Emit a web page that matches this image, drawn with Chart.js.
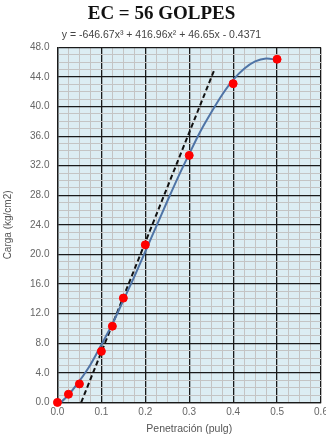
<!DOCTYPE html>
<html>
<head>
<meta charset="utf-8">
<script src="https://cdn.jsdelivr.net/npm/chart.js@4"></script>
<style>
  html, body { margin: 0; padding: 0; background: #fff; }
  #wrap { width: 326px; height: 435px; }
</style>
</head>
<body>
<div id="wrap"><canvas id="cbr"></canvas></div>
<script>
// datos del ensayo
const penetracion = [0, 0.025, 0.05, 0.1, 0.125, 0.15, 0.2, 0.3, 0.4, 0.5];
const carga = [0, 1.1, 2.5, 6.9, 10.3, 14.1, 21.3, 33.4, 43.1, 46.4];

// linea de tendencia
const curvaX = [0, 0.025, 0.05, 0.075, 0.1, 0.125, 0.15, 0.175, 0.2, 0.225, 0.25, 0.275, 0.3, 0.325, 0.35, 0.375, 0.4, 0.425, 0.45, 0.475, 0.5];
const curvaY = [-0.4, 1.0, 2.9, 5.1, 7.8, 10.6, 13.8, 17.0, 20.4, 23.8, 27.2, 30.5, 33.6, 36.6, 39.2, 41.6, 43.6, 45.1, 46.1, 46.5, 46.3];

// tangente (correccion)
const tangX = [0.054, 0.356];
const tangY = [0, 44.8];

const xTicks = ['0.0', '0.1', '0.2', '0.3', '0.4', '0.5', '0.6'];
const yTicks = ['0.0', '4.0', '8.0', '12.0', '16.0', '20.0', '24.0', '28.0', '32.0', '36.0', '40.0', '44.0', '48.0'];

const toPts = (xs, ys) => xs.map((x, i) => ({ x: x, y: ys[i] }));

const isMajorX = v => Math.abs(v * 10 - Math.round(v * 10)) < 1e-6;
const isMajorY = v => Math.abs(v / 4 - Math.round(v / 4)) < 1e-6;

const fondo = {
  id: 'fondo',
  beforeDraw(chart) {
    const { ctx, chartArea: a } = chart;
    ctx.save();
    ctx.fillStyle = '#dcedf3';
    ctx.fillRect(a.left, a.top, a.right - a.left, a.bottom - a.top);
    ctx.restore();
  }
};

new Chart(document.getElementById('cbr'), {
  type: 'scatter',
  data: {
    datasets: [{
      data: toPts(curvaX, curvaY),
      showLine: true,
      borderColor: '#4f74a6',
      borderWidth: 2,
      pointRadius: 0,
      tension: 0.3,
      order: 2
    }, {
      data: toPts(tangX, tangY),
      showLine: true,
      borderColor: '#111',
      borderWidth: 2,
      borderDash: [5, 3],
      pointRadius: 0,
      order: 3
    }, {
      data: toPts(penetracion, carga),
      backgroundColor: '#ff0000',
      borderColor: '#ff0000',
      pointRadius: 4,
      order: 1
    }]
  },
  options: {
    responsive: true,
    maintainAspectRatio: false,
    animation: false,
    clip: false,
    layout: { padding: { left: 2, right: 5, top: 3, bottom: 0 } },
    scales: {
      x: {
        type: 'linear',
        min: 0,
        max: 0.6,
        // el 0.6 queda cortado en el borde como en el original
        afterFit: s => { s.paddingRight = 0; },
        ticks: {
          stepSize: 0.025,
          autoSkip: false,
          maxRotation: 0,
          maxTicksLimit: 100,
          color: '#666',
          font: { family: 'Liberation Sans', size: 10 },
          padding: 4,
          callback: v => isMajorX(v) ? xTicks[Math.round(v * 10)] : ''
        },
        grid: {
          color: c => isMajorX(c.tick.value) ? '#1a1a1a' : '#c4c4c4',
          lineWidth: c => isMajorX(c.tick.value) ? 1.3 : 1,
          drawTicks: false
        },
        border: { color: '#1a1a1a', width: 1.3 },
        title: {
          display: true,
          text: 'Penetración (pulg)',
          color: '#555',
          font: { family: 'Liberation Sans', size: 10.5 },
          padding: { top: 0, bottom: 0 }
        }
      },
      y: {
        min: 0,
        max: 48,
        ticks: {
          stepSize: 1,
          autoSkip: false,
          maxTicksLimit: 100,
          color: '#666',
          font: { family: 'Liberation Sans', size: 10 },
          padding: 8,
          callback: v => isMajorY(v) ? yTicks[Math.round(v / 4)] : ''
        },
        grid: {
          color: c => isMajorY(c.tick.value) ? '#1a1a1a' : '#c4c4c4',
          lineWidth: c => isMajorY(c.tick.value) ? 1.3 : 1,
          drawTicks: false
        },
        border: { color: '#1a1a1a', width: 1.3 },
        title: {
          display: true,
          text: 'Carga (kg/cm2)',
          color: '#555',
          font: { family: 'Liberation Sans', size: 10 },
          padding: { top: 0, bottom: 8 }
        }
      }
    },
    plugins: {
      legend: { display: false },
      tooltip: { enabled: false },
      title: {
        display: true,
        text: 'EC = 56 GOLPES',
        color: '#111',
        font: { family: 'Liberation Serif', size: 19, weight: 'bold' },
        padding: { top: 0, bottom: 3 }
      },
      subtitle: {
        display: true,
        text: 'y = -646.67x³ + 416.96x² + 46.65x - 0.4371',
        color: '#444',
        font: { family: 'Liberation Sans', size: 10.5 },
        padding: { top: 0, bottom: 6 }
      }
    }
  },
  plugins: [fondo]
});
</script>
</body>
</html>
